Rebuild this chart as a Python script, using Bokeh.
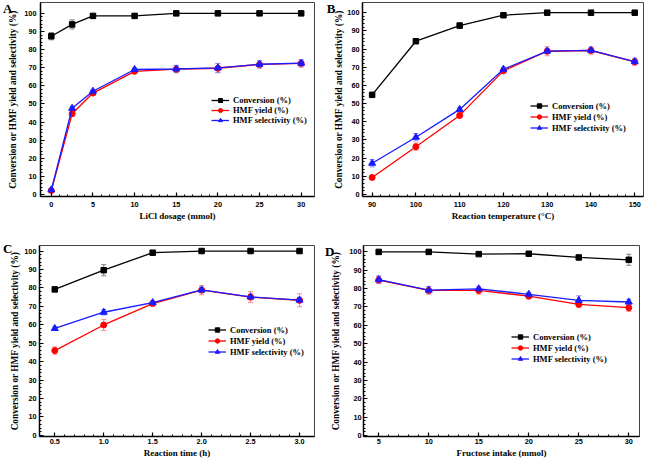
from bokeh.plotting import figure
from bokeh.layouts import row, column
from bokeh.models import (ColumnDataSource, Whisker, TeeHead, Legend, LegendItem,
                          Range1d, FixedTicker, PrintfTickFormatter, LinearAxis)
from bokeh.embed import file_html
from bokeh.resources import INLINE

# ---------------- data ----------------
# Panel A: LiCl dosage
a_x = [0, 2.5, 5, 10, 15, 20, 25, 30]
a_conv = [87.4, 93.9, 98.6, 98.6, 100, 100, 100, 100]
a_conv_err = [2.0, 2.5, 1.0, 1.0, 0.3, 0.3, 0.3, 0.3]
a_yield = [2.2, 44.6, 56.0, 68.0, 69.2, 69.7, 71.8, 72.4]
a_yield_err = [0.5, 1.5, 1.2, 1.2, 2.0, 2.5, 2.0, 2.0]
a_sel = [2.6, 47.6, 57.0, 69.0, 69.3, 69.9, 71.9, 72.5]
a_sel_err = [0.5, 1.0, 1.0, 1.0, 2.0, 2.5, 2.0, 2.0]
a_ticks = [0, 5, 10, 15, 20, 25, 30]

# Panel B: reaction temperature
b_x = [90, 100, 110, 120, 130, 140, 150]
b_conv = [54.8, 84.3, 92.9, 98.6, 100, 100, 100]
b_conv_err = [0.5, 1.0, 1.5, 0.5, 0.3, 0.3, 0.3]
b_yield = [9.4, 26.3, 43.5, 68.0, 78.8, 79.2, 73.0]
b_yield_err = [1.0, 2.0, 1.5, 1.0, 2.5, 2.0, 2.0]
b_sel = [17.2, 31.5, 46.8, 68.9, 78.9, 79.3, 73.1]
b_sel_err = [2.0, 2.0, 1.0, 1.0, 1.5, 1.5, 1.5]
b_ticks = [90, 100, 110, 120, 130, 140, 150]

# Panel C: reaction time
c_x = [0.5, 1.0, 1.5, 2.0, 2.5, 3.0]
c_conv = [79.2, 89.6, 99.1, 100, 100, 100]
c_conv_err = [1.0, 3.0, 0.5, 0.3, 0.3, 0.3]
c_yield = [46.0, 59.9, 71.5, 78.8, 75.0, 73.3]
c_yield_err = [2.0, 3.0, 1.0, 2.5, 3.0, 3.5]
c_sel = [58.0, 66.8, 72.0, 78.9, 75.1, 73.4]
c_sel_err = [1.0, 1.5, 1.0, 1.5, 1.5, 1.5]
c_ticks = [0.5, 1.0, 1.5, 2.0, 2.5, 3.0]

# Panel D: fructose intake
d_x = [5, 10, 15, 20, 25, 30]
d_conv = [100, 100, 98.8, 99.0, 97.0, 95.7]
d_conv_err = [0.3, 0.3, 0.5, 0.5, 0.5, 3.0]
d_yield = [84.7, 79.0, 79.0, 75.9, 71.4, 69.6]
d_yield_err = [2.0, 2.0, 2.0, 1.5, 1.5, 2.0]
d_sel = [84.9, 79.2, 79.9, 76.9, 73.6, 72.7]
d_sel_err = [2.0, 2.0, 1.0, 1.0, 2.5, 1.5]
d_ticks = [5, 10, 15, 20, 25, 30]

y_ticks = [0, 10, 20, 30, 40, 50, 60, 70, 80, 90, 100]
series_names = ["Conversion (%)", "HMF yield (%)", "HMF selectivity (%)"]
ylabel = "Conversion or HMF yield and selectivity (%)"
panel_letters = ["A", "B", "C", "D"]

SERIF = "Liberation Serif"
SANS = "Liberation Sans"


def minor_between(ticks, n):
    out = []
    for a, b in zip(ticks[:-1], ticks[1:]):
        for k in range(1, n):
            out.append(a + (b - a) * k / n)
    return out


def panel(x, conv, conv_err, yld, yld_err, sel, sel_err, xticks, xr, yr,
          xlabel, letter, letter_y, letter_standoff, width, height, borders,
          leg_loc, leg_h, ylab_std, ytick_std, xtick_std, xfmt=None):
    bl, br, bt, bb = borders
    p = figure(width=width, height=height, output_backend="svg",
               toolbar_location=None, x_range=Range1d(*xr), y_range=Range1d(*yr),
               min_border_left=bl, min_border_right=br,
               min_border_top=bt, min_border_bottom=bb)
    p.background_fill_color = "white"
    p.border_fill_color = "white"
    p.outline_line_color = "#444444"
    p.outline_line_width = 1
    p.xgrid.visible = False
    p.ygrid.visible = False

    for ax in (p.xaxis[0], p.yaxis[0]):
        ax.axis_line_width = 1.5
        ax.axis_line_color = "black"
        ax.major_tick_in = 4
        ax.major_tick_out = 0
        ax.minor_tick_in = 2
        ax.minor_tick_out = 0
        ax.major_tick_line_width = 1.2
        ax.minor_tick_line_width = 1
        ax.major_label_text_font = SANS
        ax.major_label_text_font_style = "bold"
        ax.major_label_text_font_size = "7.3px"
        ax.major_label_text_color = "black"
        ax.axis_label_text_font = SERIF
        ax.axis_label_text_font_style = "bold"
        ax.axis_label_text_color = "black"

    p.xaxis.ticker = FixedTicker(ticks=xticks, minor_ticks=minor_between(xticks, 5))
    p.yaxis.ticker = FixedTicker(ticks=y_ticks, minor_ticks=minor_between(y_ticks, 5))
    if xfmt:
        p.xaxis.formatter = PrintfTickFormatter(format=xfmt)
    p.xaxis.axis_label = xlabel
    p.xaxis.axis_label_text_font_size = "9px"
    p.xaxis.major_label_standoff = xtick_std
    p.xaxis.axis_label_standoff = 1
    p.yaxis.axis_label = ylabel
    p.yaxis.axis_label_text_font_size = "9.3px"
    p.yaxis.major_label_standoff = ytick_std
    p.yaxis.axis_label_standoff = ylab_std

    # panel letter: an outer, line-less axis carrying a single label
    lax = LinearAxis(ticker=FixedTicker(ticks=[letter_y], minor_ticks=[]),
                     major_label_overrides={letter_y: letter},
                     axis_line_color=None, major_tick_line_color=None,
                     minor_tick_line_color=None, major_tick_in=0, major_tick_out=0,
                     minor_tick_in=0, minor_tick_out=0,
                     major_label_standoff=letter_standoff,
                     major_label_text_font=SERIF,
                     major_label_text_font_style="bold",
                     major_label_text_font_size="13px",
                     major_label_text_color="black")
    p.add_layout(lax, "left")

    src = ColumnDataSource(dict(
        x=x,
        conv=conv, conv_lo=[v - e for v, e in zip(conv, conv_err)],
        conv_hi=[v + e for v, e in zip(conv, conv_err)],
        yld=yld, yld_lo=[v - e for v, e in zip(yld, yld_err)],
        yld_hi=[v + e for v, e in zip(yld, yld_err)],
        sel=sel, sel_lo=[v - e for v, e in zip(sel, sel_err)],
        sel_hi=[v + e for v, e in zip(sel, sel_err)],
    ))

    specs = [("conv", "black", "#808080", "square", 5.5),
             ("yld", "#ff0000", "#ff8a8a", "circle", 6),
             ("sel", "#1a1aff", "#8a8aff", "triangle", 7)]
    items = []
    for (key, col, ecol, mk, sz), name in zip(specs, series_names):
        w = Whisker(source=src, base="x", lower=key + "_lo", upper=key + "_hi",
                    line_color=ecol, line_width=1,
                    upper_head=TeeHead(size=5, line_color=ecol, line_width=1),
                    lower_head=TeeHead(size=5, line_color=ecol, line_width=1))
        p.add_layout(w)
        ln = p.line("x", key, source=src, line_color=col, line_width=1.3)
        sc = p.scatter("x", key, source=src, marker=mk, size=sz,
                       fill_color=col, line_color=col)
        items.append(LegendItem(label=name, renderers=[ln, sc]))

    leg = Legend(items=items, location=leg_loc, orientation="vertical",
                 glyph_width=18, glyph_height=leg_h, label_height=leg_h,
                 spacing=0, padding=0, margin=0, label_standoff=4,
                 border_line_alpha=0, background_fill_alpha=0,
                 label_text_font=SERIF, label_text_font_style="bold",
                 label_text_font_size="8.5px", label_text_color="black")
    p.add_layout(leg)
    return p


H = 230
pA = panel(a_x, a_conv, a_conv_err, a_yield, a_yield_err, a_sel, a_sel_err,
           a_ticks, (-1.3, 31.6), (-1.1, 106), "LiCl dosage (mmol)",
           panel_letters[0], 103, -7, 322, H, (34, 8, 2, 34), (171, 71), 10,
           ylab_std=3, ytick_std=4, xtick_std=5)
pB = panel(b_x, b_conv, b_conv_err, b_yield, b_yield_err, b_sel, b_sel_err,
           b_ticks, (87.8, 152.0), (-1.1, 105.6), "Reaction temperature (°C)",
           panel_letters[1], 102.7, -4, 323, H, (40, 2, 2, 34), (168, 63), 11,
           ylab_std=0, ytick_std=3, xtick_std=5)
pC = panel(c_x, c_conv, c_conv_err, c_yield, c_yield_err, c_sel, c_sel_err,
           c_ticks, (0.344, 3.153), (-0.6, 103.0), "Reaction time (h)",
           panel_letters[2], 101.3, -5, 322, H, (32, 8, 15, 23), (169, 79), 11,
           ylab_std=1, ytick_std=3, xtick_std=2, xfmt="%.1f")
pD = panel(d_x, d_conv, d_conv_err, d_yield, d_yield_err, d_sel, d_sel_err,
           d_ticks, (3.48, 31.07), (-0.6, 103.5), "Fructose intake (mmol)",
           panel_letters[3], 100.3, -6, 323, H, (41, 6, 14, 23), (148, 72), 11,
           ylab_std=5, ytick_std=2, xtick_std=2)

layout = column(row(pA, pB), row(pC, pD))

open("out.html", "w").write(file_html(layout, INLINE))
